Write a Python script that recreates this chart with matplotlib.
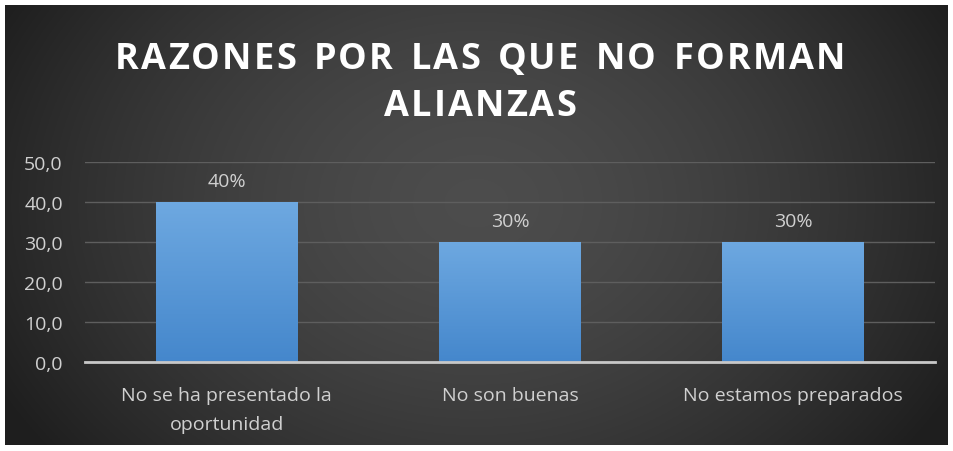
import numpy as np
import matplotlib.pyplot as plt
from matplotlib.font_manager import FontProperties

categories = ["No se ha presentado la\noportunidad", "No son buenas", "No estamos preparados"]
values = [40, 30, 30]
labels = ["40%", "30%", "30%"]
yticks = [0, 10, 20, 30, 40, 50]
title_lines = ["RAZONES POR LAS QUE NO FORMAN", "ALIANZAS"]

W, H = 954, 452
fig = plt.figure(figsize=(W / 100, H / 100), dpi=100)
fig.patch.set_facecolor("white")

# dark radial background inside a thin white frame
bg = fig.add_axes([5 / W, 6 / H, 943 / W, 440 / H])
yy, xx = np.mgrid[0:1:300j, 0:1:600j]
r = np.sqrt(((xx - 0.5) / 0.55) ** 2 + ((yy - 0.55) / 0.9) ** 2)
shade = np.clip(0.30 - 0.17 * r ** 1.6, 0.12, 0.32)
bg.imshow(np.dstack([shade] * 3), aspect="auto", extent=[0, 1, 0, 1], origin="lower")
bg.set_axis_off()

ax = fig.add_axes([85 / W, (H - 363) / H, 850 / W, 200 / H])
ax.set_facecolor("none")
x = np.arange(len(categories))
bars = ax.bar(x, values, width=0.5, color="#5b9bd5", zorder=3)

# vertical gradient on each bar
grad = np.linspace(0, 1, 100).reshape(-1, 1)
top = np.array([0.43, 0.66, 0.88])
bot = np.array([0.27, 0.53, 0.80])
img = bot + (top - bot) * grad[..., None]
for b in bars:
    im = ax.imshow(img, extent=[b.get_x(), b.get_x() + b.get_width(), 0, b.get_height()],
                   origin="lower", aspect="auto", zorder=4)
    im.set_clip_path(b)

for xi, v, lab in zip(x, values, labels):
    ax.text(xi, v + 3.0, lab, ha="center", va="bottom", color="#d0d0d0",
            fontsize=14, family="Open Sans", zorder=5)

ax.set_xlim(-0.5, 2.5)
ax.set_ylim(0, 50)
ax.set_yticks(yticks)
ax.set_yticklabels([f"{t:.1f}".replace(".", ",") for t in yticks])
ax.set_xticks(x)
ax.set_xticklabels(categories, linespacing=1.8)
ax.tick_params(axis="both", length=0, colors="#d0d0d0", labelsize=14)
ax.tick_params(axis="y", pad=16)
ax.tick_params(axis="x", pad=17)
for lab in ax.get_xticklabels() + ax.get_yticklabels():
    lab.set_family("Open Sans")
ax.grid(axis="y", color="#5e5e5e", linewidth=1, zorder=0)
for s in ["top", "right", "left"]:
    ax.spines[s].set_visible(False)
ax.spines["bottom"].set_color("#c8c8c8")
ax.spines["bottom"].set_linewidth(2)
ax.spines["bottom"].set_zorder(6)

# title with letter spacing, placed char by char
prop = FontProperties(family="Open Sans", weight="bold", size=26)
renderer = fig.canvas.get_renderer()
track = 2.2
for line, yc in zip(title_lines, [60, 107]):
    widths = [renderer.get_text_width_height_descent(c if c != " " else "n", prop, ismath=False)[0]
              * (0.55 if c == " " else 1) for c in line]
    total = sum(widths) + track * (len(line) - 1)
    xpos = 480 - total / 2
    for c, w in zip(line, widths):
        if c != " ":
            fig.text(xpos / W, 1 - yc / H, c, ha="left", va="center", color="white",
                     fontproperties=prop)
        xpos += w + track

fig.savefig("out.png", dpi=100, facecolor="white")
